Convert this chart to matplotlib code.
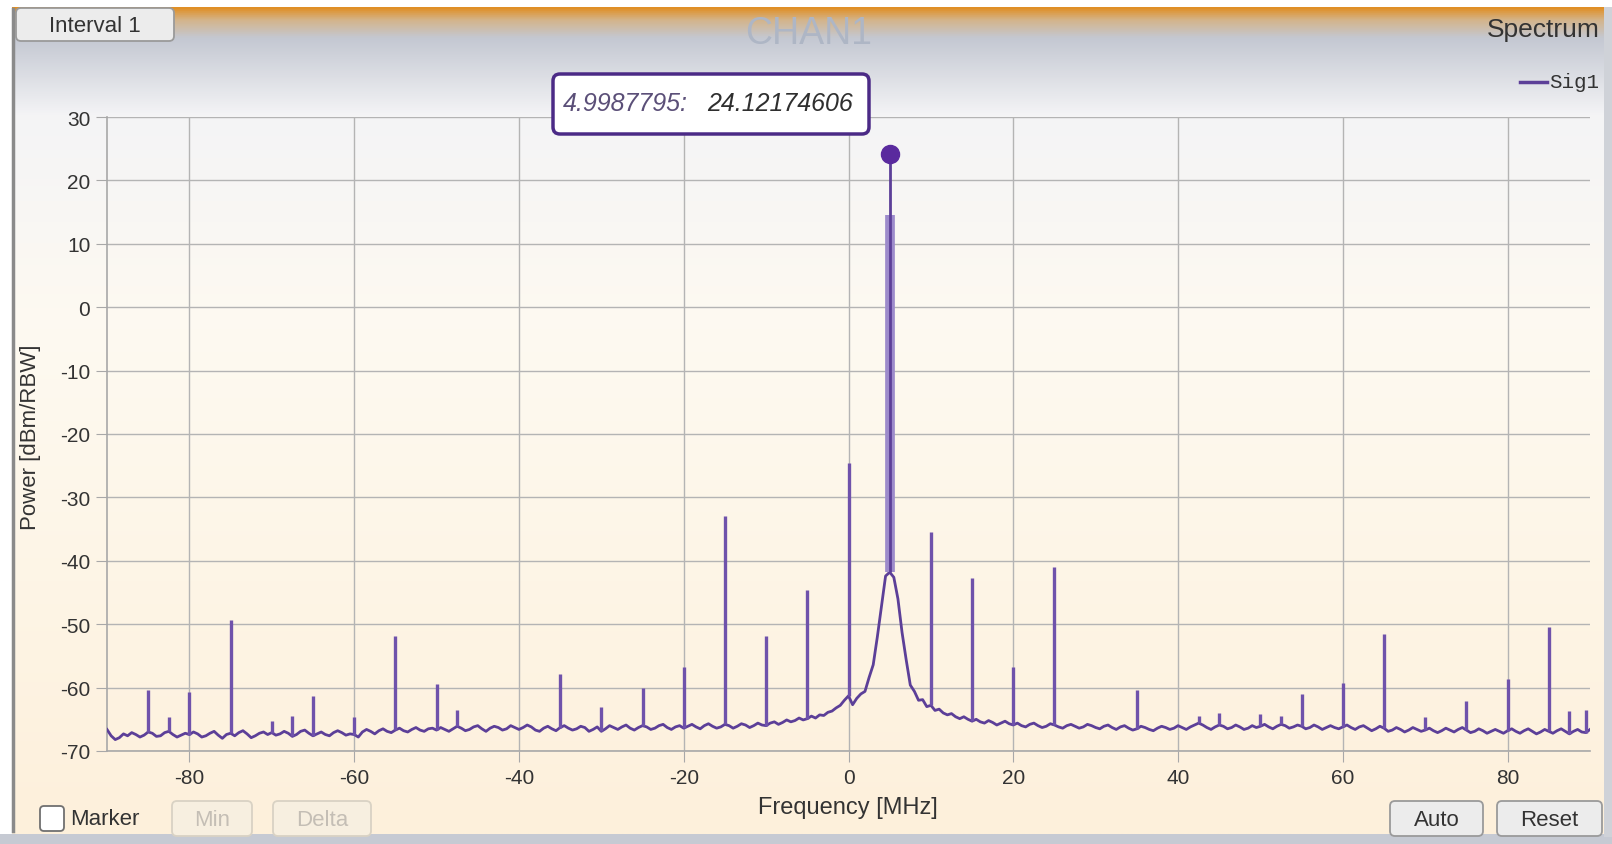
import numpy as np
import matplotlib.pyplot as plt
from matplotlib.patches import FancyBboxPatch, Rectangle
from matplotlib.colors import to_rgb

plt.rcParams['font.family'] = ['Liberation Sans', 'DejaVu Sans']
plt.rcParams['axes.unicode_minus'] = False

# noise floor of the trace, one value every 0.5 MHz from -90 to 90 MHz (dBm/RBW)
freq_start = -90
freq_step = 0.5
floor_db = [
    -66.6, -67.6, -68.2, -67.9, -67.3, -67.6, -67.1, -67.4, -67.8, -67.5, -67.0, -67.2, -67.7, -67.6, -67.1, -66.9, -67.4, -67.8, -67.5, -67.2,
    -67.4, -67.0, -67.3, -67.8, -67.6, -67.2, -66.9, -67.5, -68.0, -67.4, -67.2, -67.6, -67.1, -66.8, -67.3, -67.9, -67.6, -67.2, -67.0, -67.4,
    -67.1, -67.5, -67.3, -66.9, -67.2, -67.7, -67.4, -66.9, -66.7, -67.2, -67.6, -67.3, -67.0, -67.4, -67.6, -67.1, -66.8, -67.1, -67.5, -67.3,
    -67.4, -67.8, -67.0, -66.6, -66.9, -67.3, -66.8, -66.5, -66.9, -67.1, -66.7, -66.4, -66.8, -67.0, -66.6, -66.3, -66.7, -66.9, -66.5, -66.4,
    -66.7, -66.3, -66.6, -66.9, -66.5, -66.1, -66.4, -66.8, -66.6, -66.2, -66.0, -66.5, -66.9, -66.4, -66.1, -66.3, -66.7, -66.5, -66.0, -66.3,
    -66.6, -66.3, -65.9, -66.2, -66.7, -66.9, -66.4, -66.1, -66.5, -66.8, -66.3, -66.0, -66.4, -66.7, -66.5, -66.1, -66.3, -66.9, -66.6, -66.2,
    -66.9, -66.5, -66.0, -66.3, -66.6, -66.2, -65.9, -66.4, -66.7, -66.3, -66.0, -66.2, -66.6, -66.4, -66.0, -65.8, -66.3, -66.6, -66.2, -66.0,
    -66.4, -66.1, -65.8, -66.2, -66.5, -66.0, -65.7, -66.1, -66.4, -66.2, -65.8, -66.0, -66.4, -66.1, -65.7, -65.9, -66.3, -66.0, -65.6, -65.9,
    -66.0, -65.6, -65.4, -65.8, -65.5, -65.1, -65.4, -65.2, -64.8, -65.1, -64.9, -64.5, -64.8, -64.3, -64.4, -63.9, -63.7, -63.2, -62.8, -62.0,
    -61.3, -62.7, -61.7, -61.0, -60.6, -58.4, -56.4, -52.0, -47.2, -42.4, -41.8, -42.6, -46.0, -51.3, -55.6, -59.6, -60.6, -62.0, -61.9, -63.0,
    -62.8, -63.6, -63.4, -64.0, -64.3, -64.1, -64.6, -64.9, -64.6, -65.0, -65.3, -65.0, -65.4, -65.6, -65.2, -65.5, -65.9, -65.6, -65.3, -65.7,
    -65.9, -65.6, -66.0, -66.2, -65.8, -65.6, -66.0, -66.3, -66.1, -65.7, -65.9, -66.2, -66.4, -66.0, -65.8, -66.1, -66.4, -66.2, -65.8, -66.0,
    -66.3, -66.5, -66.1, -65.9, -66.3, -66.6, -66.2, -66.0, -66.4, -66.7, -66.5, -66.1, -66.3, -66.6, -66.8, -66.4, -66.1, -66.3, -66.6, -66.4,
    -66.0, -66.3, -66.6, -66.2, -65.9, -65.6, -65.9, -66.3, -66.6, -66.2, -65.9, -66.1, -66.5, -66.3, -65.9, -66.2, -66.6, -66.4, -66.0, -66.3,
    -66.1, -65.8, -66.2, -66.5, -66.1, -65.8, -66.0, -66.4, -66.2, -65.9, -66.1, -66.5, -66.3, -65.9, -66.2, -66.6, -66.3, -66.0, -66.3, -66.5,
    -66.2, -65.9, -66.3, -66.6, -66.2, -66.0, -66.4, -66.8, -66.5, -66.1, -66.4, -66.9, -66.7, -66.3, -66.6, -67.0, -66.7, -66.3, -66.6, -66.9,
    -66.7, -66.4, -66.8, -67.1, -66.8, -66.4, -66.7, -67.0, -66.6, -66.3, -66.7, -67.1, -66.9, -66.5, -66.8, -67.2, -66.9, -66.6, -66.9, -67.2,
    -66.8, -66.5, -66.9, -67.2, -66.8, -66.5, -66.9, -67.3, -67.0, -66.6, -66.9, -67.2, -66.8, -66.5, -66.9, -67.3, -66.9, -66.6, -67.0, -67.1,
    -66.6,
]

# spurs (MHz, peak dBm/RBW)
spur_freq = [-85, -82.5, -80, -75, -70, -67.5, -65, -60, -55, -50, -47.5,
             -35, -30, -25, -20, -15, -10, -5, 0, 10, 15, 20, 25, 35,
             42.5, 45, 50, 52.5, 55, 60, 65, 70, 75, 80, 85, 87.5, 89.5]
spur_db = [-60.3, -64.6, -60.7, -49.3, -65.3, -64.5, -61.3, -64.6, -51.9, -59.5, -63.5,
           -57.8, -63.0, -60.0, -56.8, -32.9, -51.9, -44.6, -24.6, -35.5, -42.7, -56.7, -41.0, -60.3,
           -64.5, -64.0, -64.2, -64.5, -61.0, -59.2, -51.5, -64.6, -62.1, -58.6, -50.5, -63.7, -63.5]

# carrier and its marker readout
carrier_bin = 5.0
carrier_body_db = 14.5
marker_freq = 4.9987795
marker_db = 24.12174606

x_ticks = [-80, -60, -40, -20, 0, 20, 40, 60, 80]
y_ticks = [-70, -60, -50, -40, -30, -20, -10, 0, 10, 20, 30]

W, H = 1612, 845
fig = plt.figure(figsize=(W / 100, H / 100), dpi=100)
fig.patch.set_facecolor('white')

# panel background with vertical gradient
bg = fig.add_axes([0, 0, 1, 1])
bg.axis('off')
stop_y = [0, 8, 20, 38, 115, 330, 835]
stop_c = ['#e08f25', '#e08f25', '#d4b48a', '#c4c8d2', '#f4f4f6', '#fefaf1', '#fdf0db']
rgb = np.array([to_rgb(c) for c in stop_c])
rows = np.linspace(8, 835, 400)
grad = np.stack([np.interp(rows, stop_y, rgb[:, k]) for k in range(3)], axis=1)
bg.imshow(np.repeat(grad[:, None, :], 10, axis=1), extent=(12, 1605, 835, 8), aspect='auto')
bg.add_patch(Rectangle((0, 835), W, 10, color='#c6cad3', lw=0))
bg.add_patch(Rectangle((1604, 8), 8, 830, color='#cfd2d8', lw=0))
bg.plot([12.5, 12.5], [10, 832], color='#8a8a8a', lw=2.5)
bg.set_xlim(0, W)
bg.set_ylim(H, 0)

# spectrum plot
ax = fig.add_axes([107 / W, 1 - 752 / H, (1590 - 107) / W, (752 - 118) / H])
ax.patch.set_alpha(0)
freq = freq_start + freq_step * np.arange(len(floor_db))
line_col = '#5c3f98'
ax.plot(freq, floor_db, color=line_col, lw=2.0, zorder=3)
idx = lambda f: int(round((f - freq_start) / freq_step))
base = [floor_db[idx(f)] for f in spur_freq]
ax.vlines(spur_freq, base, spur_db, color='#6f52ab', lw=2.4, zorder=3)
carrier_floor = floor_db[idx(carrier_bin)]
ax.vlines(carrier_bin, carrier_floor, carrier_body_db, color='#9d8bcb', lw=7, zorder=3)
ax.vlines(marker_freq, carrier_floor, marker_db, color=line_col, lw=2, zorder=4)
ax.plot(marker_freq, marker_db, 'o', ms=13, color='#5a2a9e', zorder=5)

ax.set_xlim(-90, 90)
ax.set_ylim(-70, 30)
ax.set_xticks(x_ticks)
ax.set_yticks(y_ticks)
ax.grid(True, color='#b4b4b4', lw=1)
for s in ['top', 'right']:
    ax.spines[s].set_visible(False)
for s in ['left', 'bottom']:
    ax.spines[s].set_color('#a8a8a8')
    ax.spines[s].set_linewidth(1.2)
ax.tick_params(direction='out', length=8, color='#a8a8a8', labelsize=15,
               labelcolor='#333333', pad=4)

# overlay for texts and controls
ov = fig.add_axes([0, 0, 1, 1])
ov.set_xlim(0, W)
ov.set_ylim(H, 0)
ov.axis('off')
ov.patch.set_alpha(0)

ov.text(809, 34, 'CHAN1', fontsize=27, color='#aeb6c5', ha='center', va='center')
ov.text(1600, 30, 'Spectrum', fontsize=19, color='#333333', ha='right', va='center')
ov.plot([1520, 1547], [83, 83], color=line_col, lw=2.5)
ov.text(1549, 83, 'Sig1', fontsize=15, family='Liberation Mono', color='#333333', va='center')

ov.text(848, 808, 'Frequency [MHz]', fontsize=17, color='#333333', ha='center', va='center')
ov.text(31, 437, 'Power [dBm/RBW]', fontsize=16, color='#333333', ha='center', va='center',
        rotation=90)

# marker readout
ov.add_patch(FancyBboxPatch((553, 75), 316, 60, boxstyle='round,pad=0,rounding_size=7',
                            fc='white', ec='#4b2a86', lw=2.5))
ov.text(563, 104, '4.9987795:', fontsize=18, style='italic', color='#5b4f78', va='center')
ov.text(707, 104, '24.12174606', fontsize=18, style='italic', color='#2f2f2f', va='center')


def button(x0, x1, y0, y1, label, enabled=True, size=16):
    fc = '#ececec' if enabled else '#f7efe0'
    ec = '#9a9a9a' if enabled else '#d9d2c4'
    tc = '#333333' if enabled else '#c4beb5'
    ov.add_patch(FancyBboxPatch((x0, y0), x1 - x0, y1 - y0,
                                boxstyle='round,pad=0,rounding_size=5',
                                fc=fc, ec=ec, lw=1.3))
    ov.text((x0 + x1) / 2, (y0 + y1) / 2 + 1, label, fontsize=size, color=tc,
            ha='center', va='center')


button(16, 174, 9, 42, 'Interval 1', size=16)
button(172, 252, 802, 837, 'Min', enabled=False)
button(273, 371, 802, 837, 'Delta', enabled=False)
button(1390, 1483, 802, 837, 'Auto')
button(1497, 1602, 802, 837, 'Reset')

ov.add_patch(FancyBboxPatch((40, 807), 24, 25, boxstyle='round,pad=0,rounding_size=4',
                            fc='white', ec='#707070', lw=1.3))
ov.text(70, 820, 'Marker', fontsize=16, color='#333333', va='center')

fig.savefig('out.png', dpi=100)
